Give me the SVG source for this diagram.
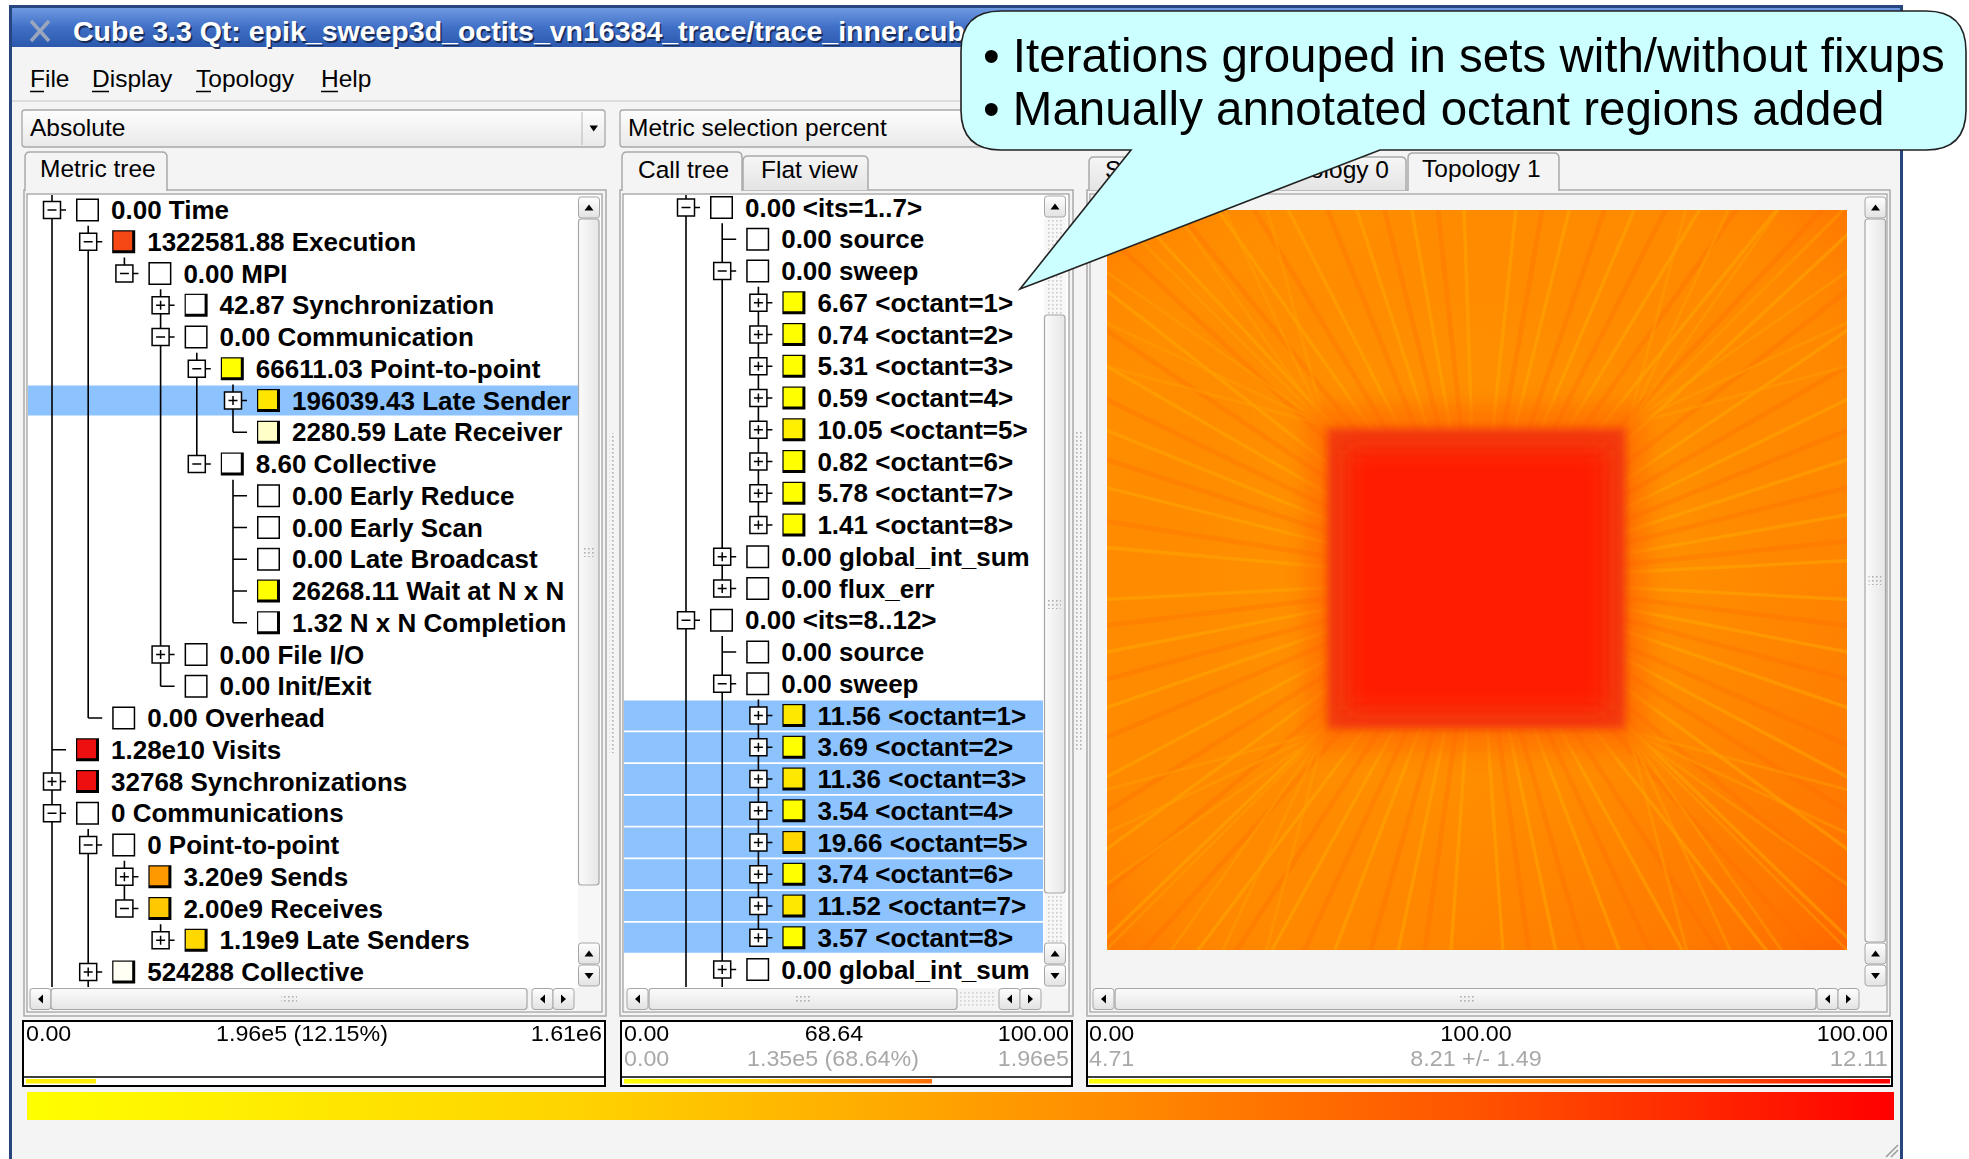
<svg xmlns="http://www.w3.org/2000/svg" xmlns:xlink="http://www.w3.org/1999/xlink" width="1969" height="1159" viewBox="0 0 1969 1159">
<defs>
<style>
.t{font-family:"Liberation Sans",Arial,Helvetica,sans-serif;font-weight:bold;font-size:26px;fill:#000}
.ui{font-family:"Liberation Sans",Arial,Helvetica,sans-serif;font-size:24.5px;fill:#000}
.lg{font-family:"Liberation Sans",Arial,Helvetica,sans-serif;font-size:21.5px;fill:#000}
.gr{fill:#a8a8a8}
.co{font-family:"Liberation Sans",Arial,Helvetica,sans-serif;font-size:47.5px;fill:#000}
.ln{stroke:#000;stroke-width:1.6;fill:none}
.pane{fill:#f4f4f4;stroke:#a9a9a9;stroke-width:1.5}
.view{fill:#fff;stroke:#9a9a9a;stroke-width:1.2}
.trk{fill:#f7f7f7}
.thv{fill:url(#thumbV);stroke:#a6a6a6;stroke-width:1.2}
.thh{fill:url(#thumbH);stroke:#a6a6a6;stroke-width:1.2}
.sel{fill:#8cc3ff}
.leg{fill:#fff;stroke:#000;stroke-width:2}
.grip{fill:url(#dots)}
.tabS{fill:#f4f4f4;stroke:#a9a9a9;stroke-width:1.5}
.tabU{fill:url(#tabG);stroke:#a9a9a9;stroke-width:1.5}
</style>
<linearGradient id="titleG" x1="0" y1="0" x2="0" y2="1">
<stop offset="0" stop-color="#6f9ae2"/><stop offset="0.5" stop-color="#3f6fc6"/><stop offset="1" stop-color="#2b58ac"/>
</linearGradient>
<linearGradient id="btn" x1="0" y1="0" x2="0" y2="1">
<stop offset="0" stop-color="#fefefe"/><stop offset="1" stop-color="#e2e2e2"/>
</linearGradient>
<linearGradient id="combo" x1="0" y1="0" x2="0" y2="1">
<stop offset="0" stop-color="#fdfdfd"/><stop offset="1" stop-color="#e9e9e9"/>
</linearGradient>
<linearGradient id="tabG" x1="0" y1="0" x2="0" y2="1">
<stop offset="0" stop-color="#f6f6f6"/><stop offset="1" stop-color="#e4e4e4"/>
</linearGradient>
<linearGradient id="thumbV" x1="0" y1="0" x2="1" y2="0">
<stop offset="0" stop-color="#fbfbfb"/><stop offset="1" stop-color="#e6e6e6"/>
</linearGradient>
<linearGradient id="thumbH" x1="0" y1="0" x2="0" y2="1">
<stop offset="0" stop-color="#fbfbfb"/><stop offset="1" stop-color="#e6e6e6"/>
</linearGradient>
<linearGradient id="cmap" x1="27" y1="0" x2="1894" y2="0" gradientUnits="userSpaceOnUse">
<stop offset="0" stop-color="#ffff00"/><stop offset="0.3" stop-color="#ffd200"/><stop offset="0.58" stop-color="#ff8c00"/><stop offset="0.78" stop-color="#ff5200"/><stop offset="1" stop-color="#ff0000"/>
</linearGradient>
<linearGradient id="cmapC" x1="624" y1="0" x2="1069" y2="0" gradientUnits="userSpaceOnUse">
<stop offset="0" stop-color="#ffff00"/><stop offset="0.3" stop-color="#ffd200"/><stop offset="0.58" stop-color="#ff8c00"/><stop offset="0.78" stop-color="#ff5200"/><stop offset="1" stop-color="#ff0000"/>
</linearGradient>
<linearGradient id="cmapT" x1="1089" y1="0" x2="1890" y2="0" gradientUnits="userSpaceOnUse">
<stop offset="0" stop-color="#ffff00"/><stop offset="0.3" stop-color="#ffd200"/><stop offset="0.58" stop-color="#ff8c00"/><stop offset="0.78" stop-color="#ff5200"/><stop offset="1" stop-color="#ff0000"/>
</linearGradient>
<radialGradient id="hmShade" cx="1477" cy="580" r="560" gradientUnits="userSpaceOnUse">
<stop offset="0.4" stop-color="#ff9c00" stop-opacity="0.25"/><stop offset="0.7" stop-color="#ff8000" stop-opacity="0"/><stop offset="1" stop-color="#ff4a00" stop-opacity="0.45"/>
</radialGradient>
<linearGradient id="hmTilt" x1="1107" y1="210" x2="1847" y2="950" gradientUnits="userSpaceOnUse">
<stop offset="0" stop-color="#ffaa00" stop-opacity="0.22"/><stop offset="0.5" stop-color="#ff8800" stop-opacity="0"/><stop offset="1" stop-color="#ff3000" stop-opacity="0.3"/>
</linearGradient>
<pattern id="dots" width="4" height="4" patternUnits="userSpaceOnUse"><rect width="1.6" height="1.6" fill="#b0b0b0"/></pattern>
<filter id="blur4" x="-20%" y="-20%" width="140%" height="140%"><feGaussianBlur stdDeviation="4"/></filter>
<filter id="blur10" x="-30%" y="-30%" width="160%" height="160%"><feGaussianBlur stdDeviation="10"/></filter>
<clipPath id="mClip"><rect x="28" y="195" width="550" height="792"/></clipPath>
<clipPath id="cClip"><rect x="624" y="195" width="419" height="792"/></clipPath>
<clipPath id="hmClip"><rect x="1107" y="210" width="740" height="740"/></clipPath>
<line id="ray" x1="0" y1="0" x2="780" y2="0"/>
<g id="em"><rect x="-8.5" y="-8.5" width="17" height="17" fill="#fff" stroke="#000" stroke-width="1.5"/><path d="M-4.5 0H4.5" stroke="#000" stroke-width="1.5"/></g>
<g id="ep"><rect x="-8.5" y="-8.5" width="17" height="17" fill="#fff" stroke="#000" stroke-width="1.5"/><path d="M-4.5 0H4.5M0 -4.5V4.5" stroke="#000" stroke-width="1.5"/></g>
<g id="sq"><rect x="0" y="0" width="23" height="23" fill="#000"/><rect x="1.2" y="1.2" width="18.8" height="18.8"/></g>
<g id="sq0"><rect x="0.75" y="0.75" width="21.5" height="21.5" fill="#fff" stroke="#000" stroke-width="1.5"/></g>
<g id="bU"><rect x="0" y="0" width="21" height="21" rx="3" fill="url(#btn)" stroke="#a6a6a6"/><path d="M6 13.5L10.5 7.5L15 13.5Z" fill="#000"/></g>
<g id="bD"><rect x="0" y="0" width="21" height="21" rx="3" fill="url(#btn)" stroke="#a6a6a6"/><path d="M6 8L10.5 14L15 8Z" fill="#000"/></g>
<g id="bL"><rect x="0" y="0" width="21" height="21" rx="3" fill="url(#btn)" stroke="#a6a6a6"/><path d="M13 6L8 10.5L13 15Z" fill="#000"/></g>
<g id="bR"><rect x="0" y="0" width="21" height="21" rx="3" fill="url(#btn)" stroke="#a6a6a6"/><path d="M8 6L13 10.5L8 15Z" fill="#000"/></g>
</defs>

<rect x="0" y="0" width="1969" height="1159" fill="#ffffff"/>

<g id="window">
<rect x="10.5" y="6.5" width="1891" height="1170" fill="#f4f4f4" stroke="#27467f" stroke-width="3"/>
<rect x="12" y="8" width="1888" height="39" fill="url(#titleG)"/>
<path d="M31 21L49 41M49 21L31 41" stroke="#9aa6bc" stroke-width="3.5"/>
<text x="74.5" y="42.5" font-family="Liberation Sans,Arial,sans-serif" font-weight="bold" font-size="28.5" fill="#1a2b55">Cube 3.3 Qt: epik_sweep3d_octits_vn16384_trace/trace_inner.cub</text>
<text x="73" y="41" font-family="Liberation Sans,Arial,sans-serif" font-weight="bold" font-size="28.5" fill="#ffffff">Cube 3.3 Qt: epik_sweep3d_octits_vn16384_trace/trace_inner.cub</text>
<line x1="12" y1="101" x2="1900" y2="101" stroke="#d4d4d4" stroke-width="1.5"/>
</g>

<g id="menu">
<text x="30" y="87" class="ui">File</text>
<text x="92" y="87" class="ui">Display</text>
<text x="196" y="87" class="ui">Topology</text>
<text x="321" y="87" class="ui">Help</text>
<path d="M30 91.5h14M92 91.5h17M196 91.5h15M321 91.5h17" stroke="#000" stroke-width="1.5"/>
</g>

<g id="combo-absolute">
<rect x="22" y="110" width="583" height="37" rx="3" fill="url(#combo)" stroke="#a8a8a8" stroke-width="1.3"/>
<line x1="582" y1="112" x2="582" y2="145" stroke="#b8b8b8"/>
<path d="M589.5 125.5H598L593.7 131.5Z" fill="#000"/>
<text x="30" y="136" class="ui">Absolute</text>
</g>
<g id="combo-metric-selection">
<rect x="620" y="110" width="1270" height="37" rx="3" fill="url(#combo)" stroke="#a8a8a8" stroke-width="1.3"/>
<text x="628" y="136" class="ui">Metric selection percent</text>
</g>

<!-- Metric tree panel -->
<g id="metric-panel">
<rect x="24" y="190" width="582" height="826" class="pane"/>
<path d="M25 191V157Q25 152 30 152H162Q167 152 167 157V191" class="tabS"/>
<text x="40" y="177" class="ui">Metric tree</text>
<rect x="27" y="194" width="575" height="818" class="view"/>
<rect x="578" y="196" width="22" height="792" class="trk"/>
<rect x="28" y="988" width="573" height="23" fill="#f4f4f4"/>
<use xlink:href="#bU" x="578.5" y="197"/>
<rect x="578.5" y="219" width="20.5" height="666" rx="3" class="thv"/>
<rect x="582" y="547" width="13" height="10" class="grip"/>
<use xlink:href="#bU" x="578.5" y="943"/>
<use xlink:href="#bD" x="578.5" y="965"/>
<use xlink:href="#bL" x="30" y="988.5"/>
<rect x="51" y="988.5" width="476" height="21" rx="3" class="thh"/>
<rect x="281" y="994" width="16" height="10" class="grip"/>
<use xlink:href="#bL" x="532" y="988.5"/>
<use xlink:href="#bR" x="553" y="988.5"/>
</g>

<g id="metric-tree" clip-path="url(#mClip)">
<rect x="28" y="385.5" width="550" height="30" class="sel"/>
<path class="ln" d="M52 194V987M88.2 225.75V718M124.4 257.5V273.5M160.6 289.25V686.25M196.8 352.75V464M233 384.5V432.25M233 479.75V622.75M88.2 829V987M124.4 860.75V908.5M160.6 924.25V940.25
M52 210h14M88.2 241.75h14M124.4 273.5h14M160.6 305.25h14M160.6 337h14M196.8 368.75h14M233 400.5h14M233 432.25h14M196.8 464h14M233 495.75h14M233 527.5h14M233 559.25h14M233 591h14M233 622.75h14M160.6 654.5h14M160.6 686.25h14M88.2 718h14M52 749.75h14M52 781.5h14M52 813.25h14M88.2 845h14M124.4 876.75h14M124.4 908.5h14M160.6 940.25h14M88.2 972h14"/>
<g id="m-row-0"><use xlink:href="#em" x="52" y="210"/><use xlink:href="#sq0" x="76" y="198.5"/><text x="111" y="219" class="t">0.00 Time</text></g>
<g id="m-row-1"><use xlink:href="#em" x="88.2" y="241.75"/><use xlink:href="#sq" x="112.2" y="230.25" fill="#f64814"/><text x="147.2" y="250.75" class="t">1322581.88 Execution</text></g>
<g id="m-row-2"><use xlink:href="#em" x="124.4" y="273.5"/><use xlink:href="#sq0" x="148.4" y="262"/><text x="183.4" y="282.5" class="t">0.00 MPI</text></g>
<g id="m-row-3"><use xlink:href="#ep" x="160.6" y="305.25"/><use xlink:href="#sq" x="184.6" y="293.75" fill="#ffffff"/><text x="219.6" y="314.25" class="t">42.87 Synchronization</text></g>
<g id="m-row-4"><use xlink:href="#em" x="160.6" y="337"/><use xlink:href="#sq0" x="184.6" y="325.5"/><text x="219.6" y="346" class="t">0.00 Communication</text></g>
<g id="m-row-5"><use xlink:href="#em" x="196.8" y="368.75"/><use xlink:href="#sq" x="220.8" y="357.25" fill="#ffff00"/><text x="255.8" y="377.75" class="t">66611.03 Point-to-point</text></g>
<g id="m-row-6"><use xlink:href="#ep" x="233" y="400.5"/><use xlink:href="#sq" x="257" y="389" fill="#ffe600"/><text x="292" y="409.5" class="t">196039.43 Late Sender</text></g>
<g id="m-row-7"><use xlink:href="#sq" x="257" y="420.75" fill="#ffffc8"/><text x="292" y="441.25" class="t">2280.59 Late Receiver</text></g>
<g id="m-row-8"><use xlink:href="#em" x="196.8" y="464"/><use xlink:href="#sq" x="220.8" y="452.5" fill="#ffffff"/><text x="255.8" y="473" class="t">8.60 Collective</text></g>
<g id="m-row-9"><use xlink:href="#sq0" x="257" y="484.25"/><text x="292" y="504.75" class="t">0.00 Early Reduce</text></g>
<g id="m-row-10"><use xlink:href="#sq0" x="257" y="516"/><text x="292" y="536.5" class="t">0.00 Early Scan</text></g>
<g id="m-row-11"><use xlink:href="#sq0" x="257" y="547.75"/><text x="292" y="568.25" class="t">0.00 Late Broadcast</text></g>
<g id="m-row-12"><use xlink:href="#sq" x="257" y="579.5" fill="#ffff00"/><text x="292" y="600" class="t">26268.11 Wait at N x N</text></g>
<g id="m-row-13"><use xlink:href="#sq" x="257" y="611.25" fill="#ffffff"/><text x="292" y="631.75" class="t">1.32 N x N Completion</text></g>
<g id="m-row-14"><use xlink:href="#ep" x="160.6" y="654.5"/><use xlink:href="#sq0" x="184.6" y="643"/><text x="219.6" y="663.5" class="t">0.00 File I/O</text></g>
<g id="m-row-15"><use xlink:href="#sq0" x="184.6" y="674.75"/><text x="219.6" y="695.25" class="t">0.00 Init/Exit</text></g>
<g id="m-row-16"><use xlink:href="#sq0" x="112.2" y="706.5"/><text x="147.2" y="727" class="t">0.00 Overhead</text></g>
<g id="m-row-17"><use xlink:href="#sq" x="76" y="738.25" fill="#ee1010"/><text x="111" y="758.75" class="t">1.28e10 Visits</text></g>
<g id="m-row-18"><use xlink:href="#ep" x="52" y="781.5"/><use xlink:href="#sq" x="76" y="770" fill="#ee1010"/><text x="111" y="790.5" class="t">32768 Synchronizations</text></g>
<g id="m-row-19"><use xlink:href="#em" x="52" y="813.25"/><use xlink:href="#sq0" x="76" y="801.75"/><text x="111" y="822.25" class="t">0 Communications</text></g>
<g id="m-row-20"><use xlink:href="#em" x="88.2" y="845"/><use xlink:href="#sq0" x="112.2" y="833.5"/><text x="147.2" y="854" class="t">0 Point-to-point</text></g>
<g id="m-row-21"><use xlink:href="#ep" x="124.4" y="876.75"/><use xlink:href="#sq" x="148.4" y="865.25" fill="#ff9900"/><text x="183.4" y="885.75" class="t">3.20e9 Sends</text></g>
<g id="m-row-22"><use xlink:href="#em" x="124.4" y="908.5"/><use xlink:href="#sq" x="148.4" y="897" fill="#ffc800"/><text x="183.4" y="917.5" class="t">2.00e9 Receives</text></g>
<g id="m-row-23"><use xlink:href="#ep" x="160.6" y="940.25"/><use xlink:href="#sq" x="184.6" y="928.75" fill="#ffd800"/><text x="219.6" y="949.25" class="t">1.19e9 Late Senders</text></g>
<g id="m-row-24"><use xlink:href="#ep" x="88.2" y="972"/><use xlink:href="#sq" x="112.2" y="960.5" fill="#fffff4"/><text x="147.2" y="981" class="t">524288 Collective</text></g>
</g>

<rect x="609.5" y="433" width="6" height="320" class="grip"/>

<!-- Call tree panel -->
<g id="call-panel">
<rect x="620" y="190" width="453" height="826" class="pane"/>
<path d="M743 190V161Q743 156 748 156H863Q868 156 868 161V190" class="tabU"/>
<text x="761" y="178" class="ui">Flat view</text>
<path d="M622 191V157Q622 152 627 152H737Q742 152 742 157V191" class="tabS"/>
<text x="638" y="178" class="ui">Call tree</text>
<rect x="623" y="194" width="446" height="818" class="view"/>
<rect x="1044" y="196" width="22" height="792" class="trk"/>
<rect x="1046" y="219" width="18" height="95" class="grip" opacity="0.6"/>
<rect x="1046" y="894" width="18" height="48" class="grip" opacity="0.6"/>
<rect x="624" y="988" width="444" height="23" fill="#f4f4f4"/>
<use xlink:href="#bU" x="1044.5" y="196"/>
<rect x="1044.5" y="315" width="20.5" height="578" rx="3" class="thv"/>
<rect x="1048" y="599" width="13" height="10" class="grip"/>
<use xlink:href="#bU" x="1044.5" y="943"/>
<use xlink:href="#bD" x="1044.5" y="965"/>
<use xlink:href="#bL" x="627" y="988.5"/>
<rect x="649" y="988.5" width="308" height="21" rx="3" class="thh"/>
<rect x="795" y="994" width="16" height="10" class="grip"/>
<rect x="960" y="990" width="36" height="18" class="grip" opacity="0.5"/>
<use xlink:href="#bL" x="999" y="988.5"/>
<use xlink:href="#bR" x="1020" y="988.5"/>
</g>

<g id="call-tree" clip-path="url(#cClip)">
<rect x="624" y="700.5" width="419" height="30" class="sel"/>
<rect x="624" y="732.25" width="419" height="30" class="sel"/>
<rect x="624" y="764" width="419" height="30" class="sel"/>
<rect x="624" y="795.75" width="419" height="30" class="sel"/>
<rect x="624" y="827.5" width="419" height="30" class="sel"/>
<rect x="624" y="859.25" width="419" height="30" class="sel"/>
<rect x="624" y="891" width="419" height="30" class="sel"/>
<rect x="624" y="922.75" width="419" height="30" class="sel"/>
<path class="ln" d="M686 194V987M722.2 223.25V588.5M758.4 286.75V525M722.2 636V987M758.4 699.5V937.75
M686 207.5h14M722.2 239.25h14M722.2 271h14M758.4 302.75h14M758.4 334.5h14M758.4 366.25h14M758.4 398h14M758.4 429.75h14M758.4 461.5h14M758.4 493.25h14M758.4 525h14M722.2 556.75h14M722.2 588.5h14M686 620.25h14M722.2 652h14M722.2 683.75h14M758.4 715.5h14M758.4 747.25h14M758.4 779h14M758.4 810.75h14M758.4 842.5h14M758.4 874.25h14M758.4 906h14M758.4 937.75h14M722.2 969.5h14"/>
<g id="c-row-0"><use xlink:href="#em" x="686" y="207.5"/><use xlink:href="#sq0" x="710" y="196"/><text x="745" y="216.5" class="t">0.00 &lt;its=1..7&gt;</text></g>
<g id="c-row-1"><use xlink:href="#sq0" x="746.2" y="227.75"/><text x="781.2" y="248.25" class="t">0.00 source</text></g>
<g id="c-row-2"><use xlink:href="#em" x="722.2" y="271"/><use xlink:href="#sq0" x="746.2" y="259.5"/><text x="781.2" y="280" class="t">0.00 sweep</text></g>
<g id="c-row-3"><use xlink:href="#ep" x="758.4" y="302.75"/><use xlink:href="#sq" x="782.4" y="291.25" fill="#ffff00"/><text x="817.4" y="311.75" class="t">6.67 &lt;octant=1&gt;</text></g>
<g id="c-row-4"><use xlink:href="#ep" x="758.4" y="334.5"/><use xlink:href="#sq" x="782.4" y="323" fill="#ffff00"/><text x="817.4" y="343.5" class="t">0.74 &lt;octant=2&gt;</text></g>
<g id="c-row-5"><use xlink:href="#ep" x="758.4" y="366.25"/><use xlink:href="#sq" x="782.4" y="354.75" fill="#ffff00"/><text x="817.4" y="375.25" class="t">5.31 &lt;octant=3&gt;</text></g>
<g id="c-row-6"><use xlink:href="#ep" x="758.4" y="398"/><use xlink:href="#sq" x="782.4" y="386.5" fill="#ffff00"/><text x="817.4" y="407" class="t">0.59 &lt;octant=4&gt;</text></g>
<g id="c-row-7"><use xlink:href="#ep" x="758.4" y="429.75"/><use xlink:href="#sq" x="782.4" y="418.25" fill="#fff000"/><text x="817.4" y="438.75" class="t">10.05 &lt;octant=5&gt;</text></g>
<g id="c-row-8"><use xlink:href="#ep" x="758.4" y="461.5"/><use xlink:href="#sq" x="782.4" y="450" fill="#ffff00"/><text x="817.4" y="470.5" class="t">0.82 &lt;octant=6&gt;</text></g>
<g id="c-row-9"><use xlink:href="#ep" x="758.4" y="493.25"/><use xlink:href="#sq" x="782.4" y="481.75" fill="#ffff00"/><text x="817.4" y="502.25" class="t">5.78 &lt;octant=7&gt;</text></g>
<g id="c-row-10"><use xlink:href="#ep" x="758.4" y="525"/><use xlink:href="#sq" x="782.4" y="513.5" fill="#ffff00"/><text x="817.4" y="534" class="t">1.41 &lt;octant=8&gt;</text></g>
<g id="c-row-11"><use xlink:href="#ep" x="722.2" y="556.75"/><use xlink:href="#sq0" x="746.2" y="545.25"/><text x="781.2" y="565.75" class="t">0.00 global_int_sum</text></g>
<g id="c-row-12"><use xlink:href="#ep" x="722.2" y="588.5"/><use xlink:href="#sq0" x="746.2" y="577"/><text x="781.2" y="597.5" class="t">0.00 flux_err</text></g>
<g id="c-row-13"><use xlink:href="#em" x="686" y="620.25"/><use xlink:href="#sq0" x="710" y="608.75"/><text x="745" y="629.25" class="t">0.00 &lt;its=8..12&gt;</text></g>
<g id="c-row-14"><use xlink:href="#sq0" x="746.2" y="640.5"/><text x="781.2" y="661" class="t">0.00 source</text></g>
<g id="c-row-15"><use xlink:href="#em" x="722.2" y="683.75"/><use xlink:href="#sq0" x="746.2" y="672.25"/><text x="781.2" y="692.75" class="t">0.00 sweep</text></g>
<g id="c-row-16"><use xlink:href="#ep" x="758.4" y="715.5"/><use xlink:href="#sq" x="782.4" y="704" fill="#ffe800"/><text x="817.4" y="724.5" class="t">11.56 &lt;octant=1&gt;</text></g>
<g id="c-row-17"><use xlink:href="#ep" x="758.4" y="747.25"/><use xlink:href="#sq" x="782.4" y="735.75" fill="#ffff00"/><text x="817.4" y="756.25" class="t">3.69 &lt;octant=2&gt;</text></g>
<g id="c-row-18"><use xlink:href="#ep" x="758.4" y="779"/><use xlink:href="#sq" x="782.4" y="767.5" fill="#ffe800"/><text x="817.4" y="788" class="t">11.36 &lt;octant=3&gt;</text></g>
<g id="c-row-19"><use xlink:href="#ep" x="758.4" y="810.75"/><use xlink:href="#sq" x="782.4" y="799.25" fill="#ffff00"/><text x="817.4" y="819.75" class="t">3.54 &lt;octant=4&gt;</text></g>
<g id="c-row-20"><use xlink:href="#ep" x="758.4" y="842.5"/><use xlink:href="#sq" x="782.4" y="831" fill="#ffd800"/><text x="817.4" y="851.5" class="t">19.66 &lt;octant=5&gt;</text></g>
<g id="c-row-21"><use xlink:href="#ep" x="758.4" y="874.25"/><use xlink:href="#sq" x="782.4" y="862.75" fill="#ffff00"/><text x="817.4" y="883.25" class="t">3.74 &lt;octant=6&gt;</text></g>
<g id="c-row-22"><use xlink:href="#ep" x="758.4" y="906"/><use xlink:href="#sq" x="782.4" y="894.5" fill="#ffe800"/><text x="817.4" y="915" class="t">11.52 &lt;octant=7&gt;</text></g>
<g id="c-row-23"><use xlink:href="#ep" x="758.4" y="937.75"/><use xlink:href="#sq" x="782.4" y="926.25" fill="#ffff00"/><text x="817.4" y="946.75" class="t">3.57 &lt;octant=8&gt;</text></g>
<g id="c-row-24"><use xlink:href="#ep" x="722.2" y="969.5"/><use xlink:href="#sq0" x="746.2" y="958"/><text x="781.2" y="978.5" class="t">0.00 global_int_sum</text></g>
</g>

<rect x="1076" y="430" width="6" height="320" class="grip"/>

<!-- Topology panel -->
<g id="topology-panel">
<rect x="1087" y="190" width="803" height="826" class="pane"/>
<path d="M1089 190V162Q1089 157 1094 157H1248Q1253 157 1253 162V190" class="tabU"/>
<text x="1105" y="178" class="ui">S</text>
<path d="M1255 190V162Q1255 157 1260 157H1401Q1406 157 1406 162V190" class="tabU"/>
<text x="1389" y="178" class="ui" text-anchor="end">ology 0</text>
<path d="M1408 191V158Q1408 153 1413 153H1554Q1559 153 1559 158V191" class="tabS"/>
<text x="1422" y="177" class="ui">Topology 1</text>
<rect x="1090" y="194" width="797" height="818" fill="#f4f4f4" stroke="#a0a0a0" stroke-width="1.2"/>
<rect x="1865" y="196" width="21" height="792" class="trk"/>
<use xlink:href="#bU" x="1865" y="197"/>
<rect x="1865" y="219" width="20.5" height="723" rx="3" class="thv"/>
<rect x="1868.5" y="575" width="13" height="10" class="grip"/>
<use xlink:href="#bU" x="1865" y="943"/>
<use xlink:href="#bD" x="1865" y="965"/>
<use xlink:href="#bL" x="1093" y="988.5"/>
<rect x="1115" y="988.5" width="701" height="21" rx="3" class="thh"/>
<rect x="1458" y="994" width="16" height="10" class="grip"/>
<use xlink:href="#bL" x="1817" y="988.5"/>
<use xlink:href="#bR" x="1838" y="988.5"/>
</g>

<g id="topology-map" clip-path="url(#hmClip)">
<rect x="1107" y="210" width="740" height="740" fill="#ff8a00"/>
<rect x="1107" y="210" width="740" height="740" fill="url(#hmTilt)"/>
<rect x="1107" y="210" width="740" height="740" fill="url(#hmShade)"/>
<g stroke="#ff6a00" stroke-width="5" opacity="0.28" transform="translate(1477 580)">
<use xlink:href="#ray" transform="rotate(7)"/><use xlink:href="#ray" transform="rotate(15)"/><use xlink:href="#ray" transform="rotate(24)"/><use xlink:href="#ray" transform="rotate(32)"/><use xlink:href="#ray" transform="rotate(40)"/><use xlink:href="#ray" transform="rotate(48)"/><use xlink:href="#ray" transform="rotate(57)"/><use xlink:href="#ray" transform="rotate(65)"/><use xlink:href="#ray" transform="rotate(74)"/><use xlink:href="#ray" transform="rotate(82)"/><use xlink:href="#ray" transform="rotate(98)"/><use xlink:href="#ray" transform="rotate(106)"/><use xlink:href="#ray" transform="rotate(115)"/><use xlink:href="#ray" transform="rotate(123)"/><use xlink:href="#ray" transform="rotate(132)"/><use xlink:href="#ray" transform="rotate(140)"/><use xlink:href="#ray" transform="rotate(148)"/><use xlink:href="#ray" transform="rotate(157)"/><use xlink:href="#ray" transform="rotate(165)"/><use xlink:href="#ray" transform="rotate(173)"/><use xlink:href="#ray" transform="rotate(189)"/><use xlink:href="#ray" transform="rotate(198)"/><use xlink:href="#ray" transform="rotate(206)"/><use xlink:href="#ray" transform="rotate(214)"/><use xlink:href="#ray" transform="rotate(223)"/><use xlink:href="#ray" transform="rotate(231)"/><use xlink:href="#ray" transform="rotate(239)"/><use xlink:href="#ray" transform="rotate(248)"/><use xlink:href="#ray" transform="rotate(256)"/><use xlink:href="#ray" transform="rotate(264)"/><use xlink:href="#ray" transform="rotate(280)"/><use xlink:href="#ray" transform="rotate(289)"/><use xlink:href="#ray" transform="rotate(297)"/><use xlink:href="#ray" transform="rotate(305)"/><use xlink:href="#ray" transform="rotate(313)"/><use xlink:href="#ray" transform="rotate(322)"/><use xlink:href="#ray" transform="rotate(330)"/><use xlink:href="#ray" transform="rotate(338)"/><use xlink:href="#ray" transform="rotate(346)"/><use xlink:href="#ray" transform="rotate(354)"/>
</g>
<g stroke="#ffa800" stroke-width="3.5" opacity="0.5" transform="translate(1477 580)">
<use xlink:href="#ray" transform="rotate(3)"/><use xlink:href="#ray" transform="rotate(11)"/><use xlink:href="#ray" transform="rotate(19)"/><use xlink:href="#ray" transform="rotate(28)"/><use xlink:href="#ray" transform="rotate(36)"/><use xlink:href="#ray" transform="rotate(44)"/><use xlink:href="#ray" transform="rotate(52)"/><use xlink:href="#ray" transform="rotate(61)"/><use xlink:href="#ray" transform="rotate(69)"/><use xlink:href="#ray" transform="rotate(78)"/><use xlink:href="#ray" transform="rotate(86)"/><use xlink:href="#ray" transform="rotate(94)"/><use xlink:href="#ray" transform="rotate(102)"/><use xlink:href="#ray" transform="rotate(111)"/><use xlink:href="#ray" transform="rotate(119)"/><use xlink:href="#ray" transform="rotate(127)"/><use xlink:href="#ray" transform="rotate(136)"/><use xlink:href="#ray" transform="rotate(144)"/><use xlink:href="#ray" transform="rotate(152)"/><use xlink:href="#ray" transform="rotate(161)"/><use xlink:href="#ray" transform="rotate(169)"/><use xlink:href="#ray" transform="rotate(177)"/><use xlink:href="#ray" transform="rotate(185)"/><use xlink:href="#ray" transform="rotate(194)"/><use xlink:href="#ray" transform="rotate(202)"/><use xlink:href="#ray" transform="rotate(210)"/><use xlink:href="#ray" transform="rotate(218)"/><use xlink:href="#ray" transform="rotate(227)"/><use xlink:href="#ray" transform="rotate(235)"/><use xlink:href="#ray" transform="rotate(243)"/><use xlink:href="#ray" transform="rotate(252)"/><use xlink:href="#ray" transform="rotate(260)"/><use xlink:href="#ray" transform="rotate(268)"/><use xlink:href="#ray" transform="rotate(276)"/><use xlink:href="#ray" transform="rotate(284)"/><use xlink:href="#ray" transform="rotate(293)"/><use xlink:href="#ray" transform="rotate(301)"/><use xlink:href="#ray" transform="rotate(309)"/><use xlink:href="#ray" transform="rotate(317)"/><use xlink:href="#ray" transform="rotate(326)"/><use xlink:href="#ray" transform="rotate(334)"/><use xlink:href="#ray" transform="rotate(342)"/><use xlink:href="#ray" transform="rotate(350)"/><use xlink:href="#ray" transform="rotate(357)"/>
</g>
<g stroke="#ffa000" stroke-width="3" opacity="0.45">
<g transform="translate(1325 425)"><use xlink:href="#ray" transform="rotate(195)"/><use xlink:href="#ray" transform="rotate(205)"/><use xlink:href="#ray" transform="rotate(215)"/><use xlink:href="#ray" transform="rotate(225)"/><use xlink:href="#ray" transform="rotate(235)"/><use xlink:href="#ray" transform="rotate(245)"/><use xlink:href="#ray" transform="rotate(255)"/></g>
<g transform="translate(1628 425)"><use xlink:href="#ray" transform="rotate(285)"/><use xlink:href="#ray" transform="rotate(295)"/><use xlink:href="#ray" transform="rotate(305)"/><use xlink:href="#ray" transform="rotate(315)"/><use xlink:href="#ray" transform="rotate(325)"/><use xlink:href="#ray" transform="rotate(335)"/><use xlink:href="#ray" transform="rotate(345)"/></g>
<g transform="translate(1325 731)"><use xlink:href="#ray" transform="rotate(105)"/><use xlink:href="#ray" transform="rotate(115)"/><use xlink:href="#ray" transform="rotate(125)"/><use xlink:href="#ray" transform="rotate(135)"/><use xlink:href="#ray" transform="rotate(145)"/><use xlink:href="#ray" transform="rotate(155)"/><use xlink:href="#ray" transform="rotate(165)"/></g>
<g transform="translate(1628 731)"><use xlink:href="#ray" transform="rotate(15)"/><use xlink:href="#ray" transform="rotate(25)"/><use xlink:href="#ray" transform="rotate(35)"/><use xlink:href="#ray" transform="rotate(45)"/><use xlink:href="#ray" transform="rotate(55)"/><use xlink:href="#ray" transform="rotate(65)"/><use xlink:href="#ray" transform="rotate(75)"/></g>
</g>
<rect x="1305" y="405" width="342" height="346" fill="#ff6400" opacity="0.55" filter="url(#blur10)"/>
<rect x="1327" y="428" width="299" height="301" fill="#f23a10" filter="url(#blur4)"/>
<rect x="1348" y="450" width="258" height="260" fill="#ff1c00" filter="url(#blur10)"/>
</g>

<!-- colour legends -->
<g id="legend-metric">
<rect x="23" y="1021" width="582" height="65" class="leg"/>
<line x1="24" y1="1077" x2="604" y2="1077" stroke="#000" stroke-width="1.5"/>
<rect x="26" y="1079" width="70" height="4.5" fill="#ffee00"/>
<text x="26" y="1041" class="lg" textLength="45.3" lengthAdjust="spacingAndGlyphs">0.00</text>
<text x="302" y="1041" class="lg" text-anchor="middle" textLength="172" lengthAdjust="spacingAndGlyphs">1.96e5 (12.15%)</text>
<text x="602" y="1041" class="lg" text-anchor="end" textLength="71.3" lengthAdjust="spacingAndGlyphs">1.61e6</text>
</g>
<g id="legend-call">
<rect x="621" y="1021" width="451" height="65" class="leg"/>
<line x1="622" y1="1077" x2="1071" y2="1077" stroke="#000" stroke-width="1.5"/>
<rect x="624" y="1079" width="308" height="4.5" fill="url(#cmapC)"/>
<text x="624" y="1041" class="lg" textLength="45.3" lengthAdjust="spacingAndGlyphs">0.00</text>
<text x="834" y="1041" class="lg" text-anchor="middle" textLength="58.3" lengthAdjust="spacingAndGlyphs">68.64</text>
<text x="1069" y="1041" class="lg" text-anchor="end" textLength="71.3" lengthAdjust="spacingAndGlyphs">100.00</text>
<text x="624" y="1065.5" class="lg gr" textLength="45.3" lengthAdjust="spacingAndGlyphs">0.00</text>
<text x="833" y="1065.5" class="lg gr" text-anchor="middle" textLength="172" lengthAdjust="spacingAndGlyphs">1.35e5 (68.64%)</text>
<text x="1069" y="1065.5" class="lg gr" text-anchor="end" textLength="71.3" lengthAdjust="spacingAndGlyphs">1.96e5</text>
</g>
<g id="legend-topology">
<rect x="1087" y="1021" width="805" height="65" class="leg"/>
<line x1="1088" y1="1077" x2="1891" y2="1077" stroke="#000" stroke-width="1.5"/>
<rect x="1089" y="1079" width="801" height="4.5" fill="url(#cmapT)"/>
<text x="1089" y="1041" class="lg" textLength="45.3" lengthAdjust="spacingAndGlyphs">0.00</text>
<text x="1476" y="1041" class="lg" text-anchor="middle" textLength="71.3" lengthAdjust="spacingAndGlyphs">100.00</text>
<text x="1888" y="1041" class="lg" text-anchor="end" textLength="71.3" lengthAdjust="spacingAndGlyphs">100.00</text>
<text x="1089" y="1065.5" class="lg gr" textLength="45.3" lengthAdjust="spacingAndGlyphs">4.71</text>
<text x="1476" y="1065.5" class="lg gr" text-anchor="middle" textLength="131.5" lengthAdjust="spacingAndGlyphs">8.21 +/- 1.49</text>
<text x="1888" y="1065.5" class="lg gr" text-anchor="end" textLength="58.3" lengthAdjust="spacingAndGlyphs">12.11</text>
</g>
<g id="colour-scale">
<rect x="27" y="1092" width="1867" height="28" fill="url(#cmap)"/>
</g>
<path d="M1886 1157L1898 1145M1891 1157L1898 1150" stroke="#9a9a9a" stroke-width="1.5"/>

<g id="callout">
<path d="M1001 11H1926Q1966 11 1966 51V110Q1966 150 1926 150H1380L1020 289L1131 150H1001Q961 150 961 110V51Q961 11 1001 11Z" fill="#ccffff" stroke="#222" stroke-width="1.6"/>
<text x="983" y="72" class="co">• Iterations grouped in sets with/without fixups</text>
<text x="983" y="125" class="co">• Manually annotated octant regions added</text>
</g>
</svg>
